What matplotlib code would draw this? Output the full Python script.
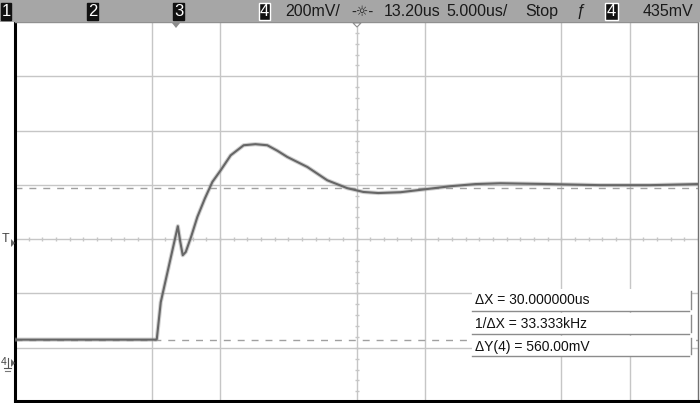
import matplotlib
matplotlib.use('Agg')
import matplotlib.pyplot as plt
from matplotlib.patches import Rectangle, Polygon
from matplotlib.lines import Line2D

# channel 4 trace: time (us) and voltage (mV)
time_us = [-11.8, -1.49, -1.42, -1.13, 0.12, 0.30, 0.48, 0.70, 1.10, 1.55,
           2.10, 2.65, 3.26, 3.99, 4.94, 5.80, 6.67, 7.40, 8.13, 9.60,
           11.06, 12.52, 13.70, 14.80, 16.42, 18.24, 20.07, 21.90, 23.73, 27.38,
           31.04, 34.69, 38.2]
volt_mv = [80, 80, 82, 218, 498, 440, 391, 403, 460, 532,
           600, 661, 704, 759, 796, 800, 796, 776, 753, 716,
           667, 638, 624, 620, 623, 634, 645, 653, 656, 653,
           649, 649, 653]

# scope settings
volts_per_div = 200      # mV/div
time_per_div = 5.0       # us/div
delay_us = 13.2          # screen centre
center_mv = 450
cursor_y_mv = [640, 80]  # Y cursors, delta = 560 mV

top_bar = ['200mV/', '13.20us', '5.000us/', 'Stop', '435mV']
measurements = ['\u0394X = 30.000000us', '1/\u0394X = 33.333kHz', '\u0394Y(4) = 560.00mV']

W, H = 700, 403


def fx(x):
    return x / W


def fy(y):
    return 1 - y / H


fig = plt.figure(figsize=(W / 100, H / 100), dpi=100)
fig.patch.set_facecolor('white')

ax = fig.add_axes([fx(15), fy(401), 683 / W, 379 / H])
ax.set_xlim(delay_us - 5 * time_per_div, delay_us + 5 * time_per_div)
ax.set_ylim(center_mv - 2.98 * volts_per_div, center_mv + 4.0 * volts_per_div)
ax.set_xticks([])
ax.set_yticks([])

grid_color = '#c6c6c6'
# graticule (only the lines that show on the screen)
for k in [-3, -2, 0, 1, 3, 4]:
    ax.axvline(delay_us + k * time_per_div, color=grid_color, lw=1, zorder=1)
for k in [-2, -1, 0, 1, 2, 3]:
    ax.axhline(center_mv + k * volts_per_div, color=grid_color, lw=1, zorder=1)

# minor ticks on the centre axes
tick_t = [delay_us - 25 + 1.0 * i for i in range(51)]
ax.plot(tick_t, [center_mv] * len(tick_t), ls='none', marker='|',
        markersize=3.5, color=grid_color, mew=1, zorder=1)
tick_v = [center_mv - 600 + 40 * i for i in range(36)]
ax.plot([delay_us] * len(tick_v), tick_v, ls='none', marker='_',
        markersize=3.5, color=grid_color, mew=1, zorder=1)

# Y cursors
for v in cursor_y_mv:
    ax.axhline(v, color='#a0a0a0', lw=1, ls=(0, (5, 5)), zorder=2)

# the trace
ax.plot(time_us, volt_mv, color='#9a9a9a', lw=3.0, alpha=0.45, zorder=3)
ax.plot(time_us, volt_mv, color='#666666', lw=1.5, zorder=4)

for side in ['left', 'bottom']:
    ax.spines[side].set_color('black')
    ax.spines[side].set_linewidth(2.2)
ax.spines['top'].set_color('#909090')
ax.spines['top'].set_linewidth(1)
ax.spines['right'].set_color('#707070')
ax.spines['right'].set_linewidth(1)

# top status bar
fig.add_artist(Rectangle((0, fy(22)), 1, 22 / H, transform=fig.transFigure,
                         facecolor='#a6a6a6', edgecolor='none', zorder=5))


def chan_box(x0, x1, label, outline=False):
    fig.add_artist(Rectangle((fx(x0), fy(20)), (x1 - x0) / W, 17 / H,
                             transform=fig.transFigure, facecolor='#111111',
                             edgecolor='white' if outline else '#111111',
                             lw=1, zorder=6))
    fig.text(fx((x0 + x1) / 2), fy(11.5), label, color='white', fontsize=12,
             ha='center', va='center', family='Liberation Sans', zorder=7)


chan_box(1, 11, '1')
chan_box(87, 98, '2')
chan_box(173, 184, '3')
chan_box(259, 270, '4', outline=True)
chan_box(605, 618, '4', outline=True)

bar_font = dict(fontsize=11.5, color='#1a1a1a', va='center', family='Liberation Sans', zorder=7)
fig.text(fx(285), fy(11.5), top_bar[0], ha='left', **bar_font)
fig.text(fx(384), fy(11.5), top_bar[1], ha='left', **bar_font)
fig.text(fx(446), fy(11.5), top_bar[2], ha='left', **bar_font)
fig.text(fx(525), fy(11.5), top_bar[3], ha='left', **bar_font)
fig.text(fx(581), fy(11.5), '\u0192', ha='center', **bar_font)
fig.text(fx(643), fy(11.5), top_bar[4], ha='left', **bar_font)
# trigger/delay icon
fig.text(fx(362), fy(11.5), '-\u263c-', ha='center', va='center', fontsize=10,
         color='#222222', family='DejaVu Sans', zorder=7)

# small markers under the bar
fig.add_artist(Polygon([(fx(172), fy(23)), (fx(180), fy(23)), (fx(176), fy(28))],
                       closed=True, transform=fig.transFigure,
                       facecolor='#8c8c8c', edgecolor='none', zorder=6))
fig.add_artist(Polygon([(fx(353), fy(23)), (fx(361), fy(23)), (fx(357), fy(27))],
                       closed=True, transform=fig.transFigure,
                       facecolor='white', edgecolor='#8c8c8c', lw=0.8, zorder=6))

# left side markers: trigger level and channel 4 ground
fig.text(fx(6), fy(239), 'T', ha='center', va='center', fontsize=9,
         color='#444444', family='Liberation Sans')
fig.add_artist(Polygon([(fx(11), fy(239)), (fx(11), fy(247)), (fx(15), fy(243))],
                       closed=True, transform=fig.transFigure,
                       facecolor='#666666', edgecolor='none'))
fig.text(fx(3.5), fy(362), '4', ha='center', va='center', fontsize=7.5,
         color='#444444', family='Liberation Sans')
fig.add_artist(Line2D([fx(7.5), fx(7.5)], [fy(358), fy(367)], transform=fig.transFigure,
                      color='#555555', lw=0.8))
fig.add_artist(Line2D([fx(4), fx(11)], [fy(368), fy(368)], transform=fig.transFigure,
                      color='#555555', lw=0.8))
fig.add_artist(Line2D([fx(5), fx(10)], [fy(370.5), fy(370.5)], transform=fig.transFigure,
                      color='#777777', lw=0.8))
fig.add_artist(Polygon([(fx(11), fy(359)), (fx(11), fy(367)), (fx(15), fy(363))],
                       closed=True, transform=fig.transFigure,
                       facecolor='#666666', edgecolor='none'))

# measurement readout boxes
box_rows = [(289, 311), (313, 334), (336, 356)]
for (y0, y1), txt in zip(box_rows, measurements):
    fig.add_artist(Rectangle((fx(472), fy(y1)), 219 / W, (y1 - y0) / H,
                             transform=fig.transFigure, facecolor='white',
                             edgecolor='none', zorder=8))
    fig.add_artist(Line2D([fx(472), fx(689)], [fy(y1), fy(y1)],
                          transform=fig.transFigure, color='#8c8c8c', lw=1, zorder=9))
    fig.add_artist(Line2D([fx(691), fx(691)], [fy(y0 + 2), fy(y1 - 2)],
                          transform=fig.transFigure, color='#8c8c8c', lw=1, zorder=9))
    fig.text(fx(475), fy((y0 + y1) / 2 + 0.5), txt, ha='left', va='center',
             fontsize=10, color='#111111', family='Liberation Sans', zorder=10)

fig.savefig('out.png', dpi=100)
